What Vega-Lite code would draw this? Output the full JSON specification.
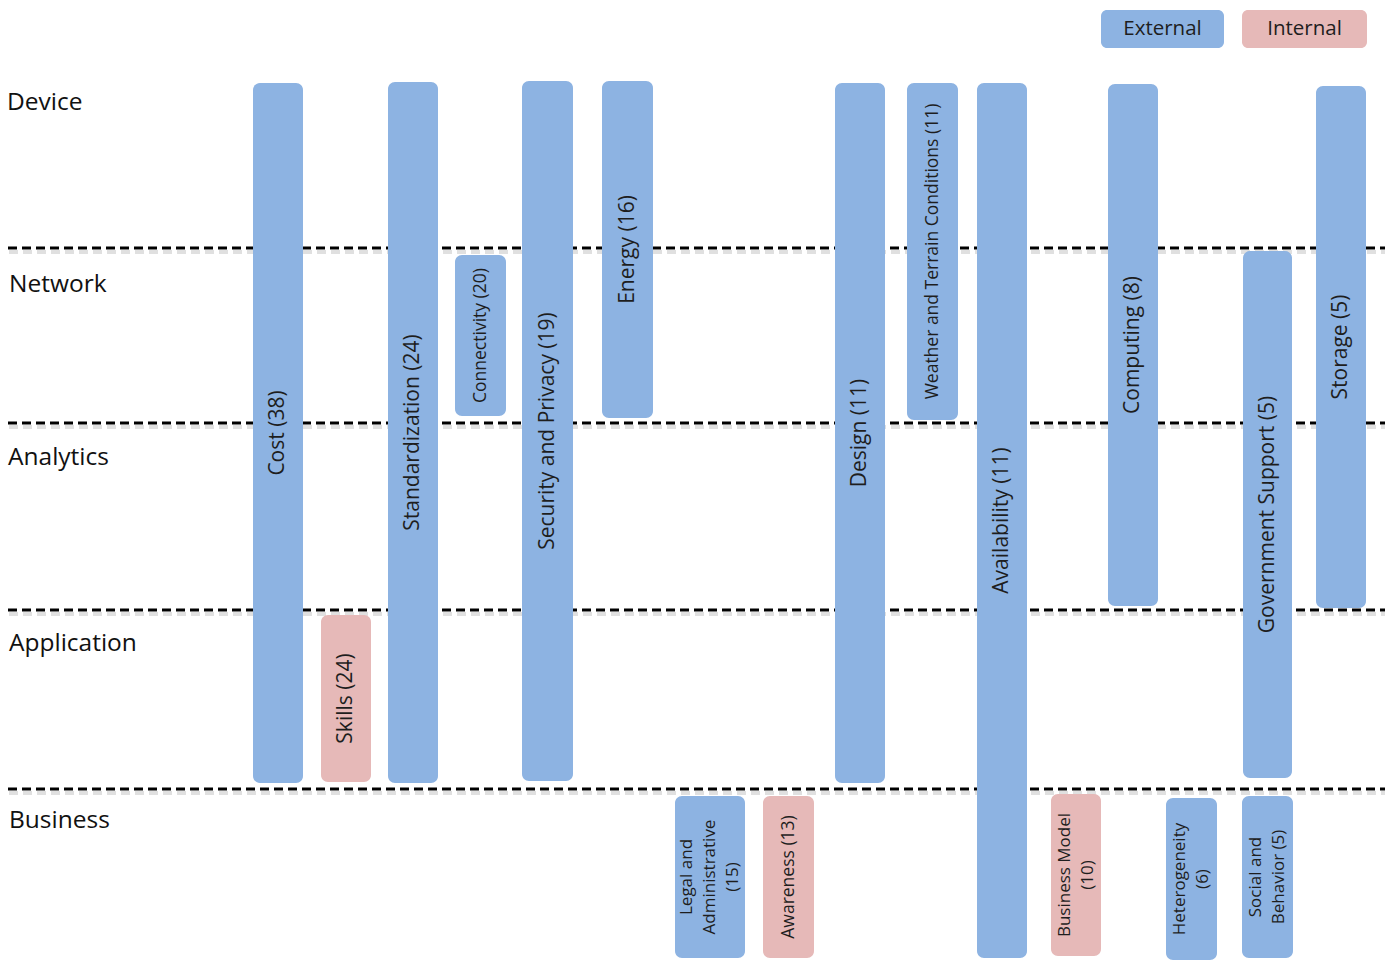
{
  "$schema": "https://vega.github.io/schema/vega-lite/v6.json",
  "width": 1392,
  "height": 966,
  "autosize": {"type": "fit", "contains": "padding"},
  "padding": 0,
  "background": "white",
  "config": {"view": {"stroke": null}, "font": "Open Sans"},
  "datasets": {
    "challenges": [
      {"challenge": "Cost (38)", "type": "External", "x0": 253, "x1": 303, "y0": 83, "y1": 783},
      {"challenge": "Skills (24)", "type": "Internal", "x0": 321, "x1": 371, "y0": 615, "y1": 782},
      {"challenge": "Standardization (24)", "type": "External", "x0": 388, "x1": 438, "y0": 82, "y1": 783},
      {"challenge": "Connectivity (20)", "type": "External", "x0": 455, "x1": 506, "y0": 255, "y1": 416},
      {"challenge": "Security and Privacy (19)", "type": "External", "x0": 522, "x1": 573, "y0": 81, "y1": 781},
      {"challenge": "Energy (16)", "type": "External", "x0": 602, "x1": 653, "y0": 81, "y1": 418},
      {"challenge": "Legal and\nAdministrative\n(15)", "type": "External", "x0": 675, "x1": 745, "y0": 796, "y1": 958},
      {"challenge": "Awareness (13)", "type": "Internal", "x0": 763, "x1": 814, "y0": 796, "y1": 958},
      {"challenge": "Design (11)", "type": "External", "x0": 835, "x1": 885, "y0": 83, "y1": 783},
      {"challenge": "Weather and Terrain Conditions (11)", "type": "External", "x0": 907, "x1": 958, "y0": 83, "y1": 420},
      {"challenge": "Availability (11)", "type": "External", "x0": 977, "x1": 1027, "y0": 83, "y1": 958},
      {"challenge": "Business Model\n(10)", "type": "Internal", "x0": 1051, "x1": 1101, "y0": 794, "y1": 956},
      {"challenge": "Computing (8)", "type": "External", "x0": 1108, "x1": 1158, "y0": 84, "y1": 606},
      {"challenge": "Heterogeneity\n(6)", "type": "External", "x0": 1166, "x1": 1217, "y0": 798, "y1": 960},
      {"challenge": "Government Support (5)", "type": "External", "x0": 1243, "x1": 1292, "y0": 251, "y1": 778},
      {"challenge": "Social and\nBehavior (5)", "type": "External", "x0": 1242, "x1": 1293, "y0": 796, "y1": 958},
      {"challenge": "Storage (5)", "type": "External", "x0": 1316, "x1": 1366, "y0": 86, "y1": 608}
    ],
    "layers": [
      {"layer": "Device", "x": 7, "y": 110},
      {"layer": "Network", "x": 9, "y": 292},
      {"layer": "Analytics", "x": 8, "y": 465},
      {"layer": "Application", "x": 9, "y": 651},
      {"layer": "Business", "x": 9, "y": 828}
    ],
    "dividers": [
      {"between": "Device / Network", "x0": 8, "x1": 1385, "y": 248},
      {"between": "Network / Analytics", "x0": 8, "x1": 1385, "y": 423},
      {"between": "Analytics / Application", "x0": 8, "x1": 1385, "y": 610},
      {"between": "Application / Business", "x0": 8, "x1": 1385, "y": 789}
    ],
    "legend": [
      {"type": "External", "x0": 1101, "x1": 1224, "y0": 10, "y1": 48},
      {"type": "Internal", "x0": 1242, "x1": 1367, "y0": 10, "y1": 48}
    ]
  },
  "layer": [
    {
      "data": {"name": "dividers"},
      "mark": {"type": "rule", "color": "#000000", "opacity": 0.12, "strokeWidth": 4, "strokeDash": [9, 5], "xOffset": 1, "yOffset": 4},
      "encoding": {
        "x": {"field": "x0", "type": "quantitative", "scale": {"domain": [0, 1392], "nice": false, "zero": false}, "axis": null},
        "x2": {"field": "x1"},
        "y": {"field": "y", "type": "quantitative", "scale": {"domain": [0, 966], "reverse": true, "nice": false, "zero": false}, "axis": null}
      }
    },
    {
      "data": {"name": "dividers"},
      "mark": {"type": "rule", "color": "#000000", "strokeWidth": 3, "strokeDash": [9, 5]},
      "encoding": {
        "x": {"field": "x0", "type": "quantitative", "axis": null},
        "x2": {"field": "x1"},
        "y": {"field": "y", "type": "quantitative", "axis": null}
      }
    },
    {
      "data": {"name": "challenges"},
      "mark": {"type": "rect", "cornerRadius": 7},
      "encoding": {
        "x": {"field": "x0", "type": "quantitative", "axis": null},
        "x2": {"field": "x1"},
        "y": {"field": "y0", "type": "quantitative", "axis": null},
        "y2": {"field": "y1"},
        "color": {"field": "type", "type": "nominal", "scale": {"domain": ["External", "Internal"], "range": ["#8DB3E2", "#E6B9B8"]}, "legend": null}
      }
    },
    {
      "data": {"name": "challenges"},
      "transform": [
        {"filter": {"not": {"field": "challenge", "oneOf": ["Connectivity (20)", "Weather and Terrain Conditions (11)", "Legal and\nAdministrative\n(15)", "Awareness (13)", "Business Model\n(10)", "Heterogeneity\n(6)", "Social and\nBehavior (5)"]}}},
        {"calculate": "(datum.x0 + datum.x1) / 2", "as": "xm"},
        {"calculate": "(datum.y0 + datum.y1) / 2", "as": "ym"}
      ],
      "mark": {"type": "text", "angle": 270, "align": "center", "baseline": "middle", "fontSize": 21, "color": "#1e1e1e"},
      "encoding": {
        "x": {"field": "xm", "type": "quantitative", "axis": null},
        "y": {"field": "ym", "type": "quantitative", "axis": null},
        "text": {"field": "challenge"}
      }
    },
    {
      "data": {"name": "challenges"},
      "transform": [
        {"filter": {"field": "challenge", "oneOf": ["Connectivity (20)", "Weather and Terrain Conditions (11)", "Awareness (13)"]}},
        {"calculate": "(datum.x0 + datum.x1) / 2", "as": "xm"},
        {"calculate": "(datum.y0 + datum.y1) / 2", "as": "ym"}
      ],
      "mark": {"type": "text", "angle": 270, "align": "center", "baseline": "middle", "fontSize": 17.5, "color": "#1e1e1e"},
      "encoding": {
        "x": {"field": "xm", "type": "quantitative", "axis": null},
        "y": {"field": "ym", "type": "quantitative", "axis": null},
        "text": {"field": "challenge"}
      }
    },
    {
      "data": {"name": "challenges"},
      "transform": [
        {"filter": {"field": "challenge", "oneOf": ["Business Model\n(10)", "Heterogeneity\n(6)", "Social and\nBehavior (5)"]}},
        {"calculate": "(datum.x0 + datum.x1) / 2", "as": "xm"},
        {"calculate": "(datum.y0 + datum.y1) / 2", "as": "ym"}
      ],
      "mark": {"type": "text", "angle": 270, "align": "center", "baseline": "middle", "fontSize": 17, "lineHeight": 23, "lineBreak": "\n", "dy": -11.5, "color": "#1e1e1e"},
      "encoding": {
        "x": {"field": "xm", "type": "quantitative", "axis": null},
        "y": {"field": "ym", "type": "quantitative", "axis": null},
        "text": {"field": "challenge"}
      }
    },
    {
      "data": {"name": "challenges"},
      "transform": [
        {"filter": {"field": "challenge", "oneOf": ["Legal and\nAdministrative\n(15)"]}},
        {"calculate": "(datum.x0 + datum.x1) / 2", "as": "xm"},
        {"calculate": "(datum.y0 + datum.y1) / 2", "as": "ym"}
      ],
      "mark": {"type": "text", "angle": 270, "align": "center", "baseline": "middle", "fontSize": 17, "lineHeight": 23, "lineBreak": "\n", "dy": -23, "color": "#1e1e1e"},
      "encoding": {
        "x": {"field": "xm", "type": "quantitative", "axis": null},
        "y": {"field": "ym", "type": "quantitative", "axis": null},
        "text": {"field": "challenge"}
      }
    },
    {
      "data": {"name": "layers"},
      "mark": {"type": "text", "align": "left", "baseline": "alphabetic", "fontSize": 24.5, "color": "#111111"},
      "encoding": {
        "x": {"field": "x", "type": "quantitative", "axis": null},
        "y": {"field": "y", "type": "quantitative", "axis": null},
        "text": {"field": "layer"}
      }
    },
    {
      "data": {"name": "legend"},
      "mark": {"type": "rect", "cornerRadius": 6},
      "encoding": {
        "x": {"field": "x0", "type": "quantitative", "axis": null},
        "x2": {"field": "x1"},
        "y": {"field": "y0", "type": "quantitative", "axis": null},
        "y2": {"field": "y1"},
        "color": {"field": "type", "type": "nominal", "legend": null}
      }
    },
    {
      "data": {"name": "legend"},
      "transform": [
        {"calculate": "(datum.x0 + datum.x1) / 2", "as": "xm"},
        {"calculate": "(datum.y0 + datum.y1) / 2", "as": "ym"}
      ],
      "mark": {"type": "text", "align": "center", "baseline": "middle", "fontSize": 20.5, "color": "#1e1e1e"},
      "encoding": {
        "x": {"field": "xm", "type": "quantitative", "axis": null},
        "y": {"field": "ym", "type": "quantitative", "axis": null},
        "text": {"field": "type"}
      }
    }
  ]
}
